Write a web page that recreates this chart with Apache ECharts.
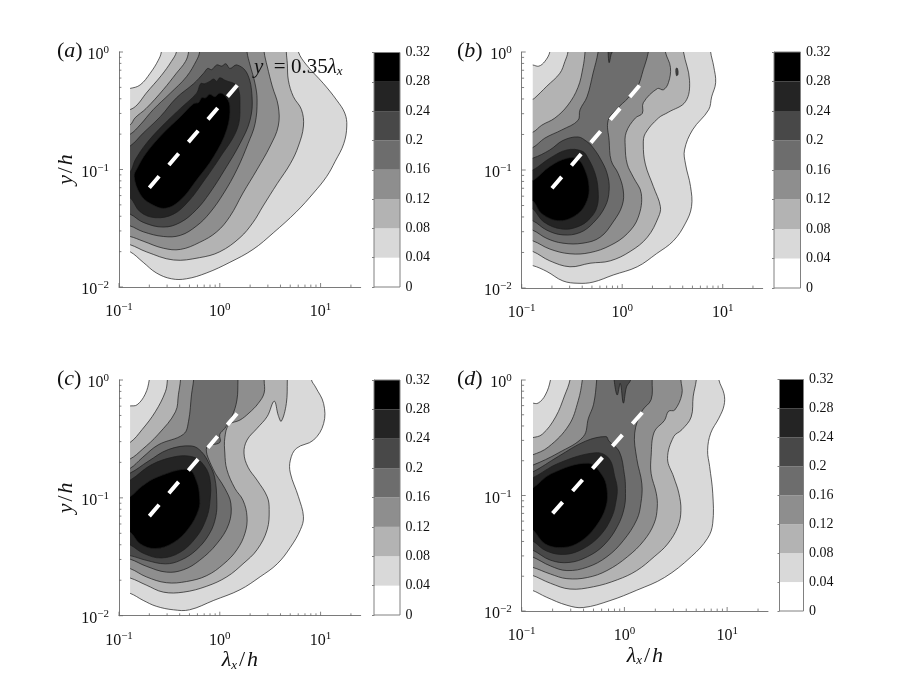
<!DOCTYPE html>
<html><head><meta charset="utf-8">
<style>html,body{margin:0;padding:0;background:#fff}#c{width:913px;height:691px}</style>
<script src="https://cdn.jsdelivr.net/npm/echarts@6/dist/echarts.min.js"></script>
</head><body><div id="c"></div>
<script>
// Contour outlines, as [log10(lambda_x/h), log10(y/h)]
const a04=[[-.95,-1.70],[-.89,-1.70],[-.76,-1.79],[-.63,-1.88],[-.48,-1.93],[-.33,-1.93],[-.13,-1.88],[.10,-1.79],[.33,-1.68],[.53,-1.54],[.76,-1.36],[.93,-1.20],[1.06,-1.06],[1.145,-.93],[1.23,-.78],[1.26,-.63],[1.24,-.52],[1.16,-.41],[1.03,-.27],[.86,-.11],[.78,0],[.78,.08],[-.58,.08],[-.58,0],[-.61,-.07],[-.69,-.18],[-.79,-.28],[-.89,-.31],[-.95,-.31]];
const a08=[[-.95,-1.64],[-.89,-1.64],[-.73,-1.70],[-.46,-1.77],[-.20,-1.75],[0,-1.70],[.20,-1.58],[.33,-1.45],[.43,-1.31],[.57,-1.12],[.70,-.95],[.78,-.80],[.83,-.63],[.81,-.49],[.73,-.38],[.68,-.24],[.67,-.10],[.66,0],[.66,.08],[-.43,.08],[-.43,0],[-.48,-.08],[-.58,-.20],[-.73,-.35],[-.82,-.45],[-.89,-.49],[-.95,-.49]];
const a12=[[-.95,-1.57],[-.89,-1.57],[-.76,-1.61],[-.56,-1.67],[-.39,-1.68],[-.20,-1.62],[-.03,-1.53],[.10,-1.40],[.23,-1.20],[.37,-1.00],[.50,-.80],[.58,-.63],[.58,-.46],[.52,-.29],[.47,-.12],[.44,0],[.44,.08],[-.31,.08],[-.31,0],[-.34,-.08],[-.43,-.18],[-.56,-.32],[-.73,-.48],[-.84,-.56],[-.89,-.62],[-.95,-.62]];
const a16=[[-.95,-1.48],[-.89,-1.48],[-.76,-1.53],[-.56,-1.57],[-.39,-1.56],[-.23,-1.48],[-.10,-1.37],[.04,-1.20],[.17,-1.00],[.28,-.78],[.35,-.61],[.37,-.41],[.35,-.27],[.30,-.11],[.27,0],[.27,.08],[-.20,.08],[-.20,0],[-.23,-.07],[-.33,-.21],[-.49,-.35],[-.66,-.49],[-.79,-.62],[-.89,-.70],[-.95,-.70]];
const a20=[[-.95,-1.38],[-.89,-1.38],[-.76,-1.45],[-.56,-1.49],[-.39,-1.45],[-.23,-1.34],[-.10,-1.20],[.05,-1.00],[.20,-.78],[.30,-.58],[.32,-.38],[.27,-.18],[.17,-.11],[.10,-.14],[.06,-.10],[.02,-.12],[-.03,-.11],[-.08,-.15],[-.12,-.14],[-.16,-.18],[-.26,-.27],[-.43,-.39],[-.59,-.55],[-.76,-.69],[-.89,-.80],[-.95,-.80]];
const a24=[[-.95,-1.24],[-.89,-1.24],[-.79,-1.36],[-.64,-1.41],[-.46,-1.38],[-.31,-1.27],[-.16,-1.10],[0,-.90],[.17,-.66],[.20,-.46],[.17,-.29],[.05,-.24],[0,-.22],[-.03,-.25],[-.06,-.23],[-.10,-.25],[-.15,-.27],[-.19,-.27],[-.23,-.35],[-.39,-.48],[-.56,-.62],[-.73,-.78],[-.84,-.92],[-.89,-1.02],[-.95,-1.02]];
const a28=[[-.85,-1.06],[-.79,-1.21],[-.69,-1.29],[-.54,-1.33],[-.39,-1.26],[-.23,-1.09],[-.06,-.89],[.07,-.66],[.10,-.46],[.05,-.37],[0,-.35],[-.05,-.38],[-.10,-.36],[-.14,-.39],[-.18,-.39],[-.21,-.43],[-.26,-.44],[-.39,-.55],[-.56,-.69],[-.73,-.86],[-.82,-.99]];

const b04=[[-.95,-1.81],[-.89,-1.81],[-.75,-1.86],[-.59,-1.94],[-.44,-1.96],[-.29,-1.95],[-.09,-1.89],[.15,-1.82],[.34,-1.71],[.51,-1.60],[.63,-1.45],[.69,-1.31],[.68,-1.14],[.63,-.95],[.62,-.83],[.70,-.66],[.86,-.49],[.89,-.38],[.93,-.26],[.91,-.12],[.88,0],[.88,.08],[-.72,.08],[-.72,0],[-.77,-.08],[-.83,-.12],[-.89,-.11],[-.95,-.11]];
const b08=[[-.95,-1.69],[-.89,-1.69],[-.72,-1.77],[-.52,-1.82],[-.32,-1.79],[-.12,-1.77],[.08,-1.69],[.25,-1.57],[.36,-1.40],[.38,-1.31],[.31,-1.14],[.23,-.95],[.21,-.78],[.23,-.69],[.36,-.56],[.46,-.51],[.63,-.42],[.67,-.24],[.61,0],[.61,.08],[-.54,.08],[-.54,0],[-.57,-.08],[-.62,-.18],[-.75,-.29],[-.87,-.39],[-.89,-.40],[-.95,-.40]];
const b12=[[-.95,-1.60],[-.89,-1.60],[-.72,-1.67],[-.52,-1.71],[-.32,-1.70],[-.12,-1.64],[.05,-1.54],[.16,-1.40],[.19,-1.20],[.11,-1.06],[.05,-.95],[.03,-.80],[.04,-.68],[.13,-.56],[.20,-.52],[.21,-.43],[.35,-.31],[.41,-.32],[.46,-.26],[.48,-.13],[.43,0],[.43,.08],[-.37,.08],[-.37,0],[-.39,-.13],[-.44,-.30],[-.54,-.45],[-.67,-.56],[-.80,-.62],[-.89,-.68],[-.95,-.68]];
const b16=[[-.95,-1.51],[-.89,-1.51],[-.75,-1.58],[-.59,-1.62],[-.39,-1.62],[-.22,-1.57],[-.09,-1.44],[0,-1.30],[.01,-1.17],[-.04,-1.03],[-.11,-.92],[-.13,-.75],[-.14,-.58],[-.05,-.48],[.06,-.39],[.15,-.30],[.21,-.15],[.26,0],[.26,.08],[-.24,.08],[-.24,0],[-.29,-.18],[-.35,-.38],[-.42,-.49],[-.44,-.58],[-.60,-.66],[-.77,-.73],[-.89,-.81],[-.95,-.81]];
const b20=[[-.95,-1.43],[-.89,-1.43],[-.75,-1.51],[-.59,-1.55],[-.42,-1.53],[-.29,-1.45],[-.17,-1.31],[-.13,-1.17],[-.15,-1.03],[-.22,-.90],[-.30,-.80],[-.35,-.76],[-.44,-.72],[-.59,-.75],[-.72,-.83],[-.89,-.90],[-.95,-.90]];
const b24=[[-.95,-1.33],[-.89,-1.33],[-.78,-1.44],[-.60,-1.50],[-.44,-1.48],[-.32,-1.41],[-.25,-1.31],[-.24,-1.17],[-.27,-1.03],[-.34,-.90],[-.40,-.84],[-.55,-.83],[-.72,-.90],[-.89,-1.00],[-.95,-1.00]];
const b28=[[-.95,-1.26],[-.89,-1.26],[-.80,-1.37],[-.62,-1.43],[-.44,-1.37],[-.35,-1.26],[-.33,-1.14],[-.37,-1.00],[-.44,-.91],[-.55,-.90],[-.72,-.97],[-.89,-1.09],[-.95,-1.09]];
const bSpike=[[-.14,.08],[-.14,0],[-.13,-.09],[-.11,-.02],[-.10,0],[-.10,.08]];
const bSpeck=[[.535,-.14],[.55,-.14],[.555,-.19],[.54,-.20]];

const c04=[[-.95,-1.81],[-.89,-1.81],[-.76,-1.87],[-.63,-1.92],[-.46,-1.95],[-.30,-1.95],[-.06,-1.87],[.20,-1.78],[.40,-1.67],[.57,-1.56],[.70,-1.42],[.80,-1.27],[.83,-1.16],[.78,-.99],[.70,-.79],[.70,-.68],[.76,-.58],[.93,-.51],[1.03,-.37],[1.03,-.20],[.95,-.06],[.91,0],[.91,.08],[-.70,.08],[-.70,0],[-.74,-.12],[-.82,-.21],[-.89,-.22],[-.95,-.22]];
const c08=[[-.95,-1.68],[-.89,-1.68],[-.73,-1.74],[-.56,-1.80],[-.36,-1.80],[-.13,-1.75],[.07,-1.67],[.23,-1.56],[.37,-1.44],[.47,-1.27],[.49,-1.10],[.47,-.99],[.37,-.85],[.28,-.74],[.24,-.62],[.27,-.51],[.37,-.41],[.47,-.31],[.54,-.18],[.58,-.30],[.61,-.35],[.66,-.20],[.67,0],[.67,.08],[-.52,.08],[-.52,0],[-.54,-.10],[-.64,-.27],[-.77,-.42],[-.89,-.53],[-.95,-.53]];
const c12=[[-.95,-1.60],[-.89,-1.60],[-.73,-1.67],[-.53,-1.72],[-.33,-1.71],[-.13,-1.66],[.04,-1.56],[.17,-1.44],[.25,-1.30],[.27,-1.16],[.23,-1.02],[.15,-.92],[.07,-.76],[.05,-.62],[.05,-.49],[.09,-.38],[.20,-.34],[.29,-.28],[.38,-.20],[.44,-.11],[.44,0],[.44,.08],[-.39,.08],[-.39,0],[-.41,-.12],[-.44,-.27],[-.61,-.46],[-.77,-.59],[-.89,-.67],[-.95,-.67]];
const c16=[[-.95,-1.52],[-.89,-1.52],[-.73,-1.58],[-.53,-1.63],[-.36,-1.61],[-.20,-1.53],[-.03,-1.39],[.09,-1.22],[.11,-1.05],[.05,-.92],[-.07,-.75],[-.13,-.57],[0,-.53],[0,-.46],[.05,-.41],[.12,-.31],[.17,-.17],[.18,0],[.18,.08],[-.26,.08],[-.26,0],[-.28,-.12],[-.31,-.35],[-.36,-.46],[-.61,-.55],[-.77,-.66],[-.89,-.75],[-.95,-.75]];
const c20=[[-.95,-1.49],[-.89,-1.49],[-.73,-1.53],[-.54,-1.56],[-.39,-1.53],[-.23,-1.44],[-.10,-1.30],[-.04,-1.16],[-.03,-1.02],[-.05,-.83],[-.10,-.72],[-.18,-.61],[-.28,-.56],[-.51,-.59],[-.71,-.69],[-.89,-.79],[-.95,-.79]];
const c24=[[-.95,-1.40],[-.89,-1.40],[-.76,-1.47],[-.58,-1.51],[-.39,-1.46],[-.23,-1.33],[-.14,-1.19],[-.10,-1.05],[-.10,-.83],[-.18,-.70],[-.28,-.65],[-.44,-.65],[-.68,-.72],[-.89,-.85],[-.95,-.85]];
const c28=[[-.95,-1.29],[-.89,-1.29],[-.79,-1.39],[-.64,-1.43],[-.46,-1.38],[-.31,-1.26],[-.21,-1.10],[-.20,-.99],[-.23,-.86],[-.31,-.76],[-.61,-.82],[-.77,-.90],[-.89,-.99],[-.95,-.99]];

const d04=[[-.95,-1.82],[-.90,-1.82],[-.76,-1.88],[-.56,-1.95],[-.40,-1.97],[-.14,-1.91],[.12,-1.82],[.39,-1.71],[.65,-1.53],[.81,-1.37],[.86,-1.24],[.86,-.98],[.83,-.75],[.81,-.61],[.84,-.46],[.92,-.33],[.97,-.22],[.97,-.12],[.92,0],[.92,.08],[-.72,.08],[-.72,0],[-.77,-.13],[-.84,-.20],[-.90,-.20],[-.95,-.20]];
const d08=[[-.95,-1.69],[-.90,-1.69],[-.72,-1.76],[-.53,-1.81],[-.30,-1.79],[-.07,-1.73],[.12,-1.65],[.29,-1.53],[.42,-1.42],[.52,-1.27],[.55,-1.13],[.53,-.98],[.48,-.84],[.42,-.68],[.48,-.49],[.56,-.43],[.65,-.32],[.67,-.14],[.70,0],[.70,.08],[-.53,.08],[-.53,0],[-.58,-.13],[-.67,-.32],[-.80,-.47],[-.90,-.50],[-.95,-.50]];
const d12=[[-.95,-1.62],[-.90,-1.62],[-.72,-1.68],[-.56,-1.72],[-.36,-1.71],[-.17,-1.65],[.03,-1.53],[.19,-1.39],[.29,-1.24],[.32,-1.10],[.31,-.98],[.26,-.81],[.26,-.66],[.29,-.45],[.39,-.35],[.43,-.27],[.49,-.26],[.56,-.12],[.55,0],[.55,.08],[-.41,.08],[-.41,0],[-.45,-.18],[-.54,-.39],[-.74,-.58],[-.90,-.65],[-.95,-.65]];
const d16=[[-.95,-1.53],[-.90,-1.53],[-.72,-1.61],[-.56,-1.65],[-.36,-1.62],[-.17,-1.53],[-.01,-1.39],[.12,-1.21],[.16,-1.07],[.17,-.90],[.12,-.68],[.10,-.46],[.17,-.27],[.26,-.17],[.27,0],[.27,.08],[-.27,.08],[-.27,0],[-.30,-.21],[-.35,-.33],[-.40,-.49],[-.64,-.63],[-.90,-.74],[-.95,-.74]];
const d20=[[-.95,-1.47],[-.90,-1.47],[-.72,-1.56],[-.54,-1.58],[-.36,-1.53],[-.20,-1.43],[-.07,-1.27],[0,-1.10],[.01,-.94],[0,-.82],[-.05,-.62],[-.15,-.53],[-.18,-.49],[-.38,-.53],[-.64,-.66],[-.90,-.80],[-.95,-.80]];
const d24=[[-.95,-1.39],[-.90,-1.39],[-.76,-1.48],[-.58,-1.51],[-.40,-1.46],[-.23,-1.34],[-.12,-1.18],[-.08,-1.04],[-.07,-.94],[-.09,-.85],[-.15,-.68],[-.28,-.63],[-.64,-.72],[-.90,-.85],[-.95,-.85]];
const d28=[[-.95,-1.29],[-.90,-1.29],[-.77,-1.42],[-.59,-1.45],[-.43,-1.40],[-.28,-1.27],[-.18,-1.10],[-.17,-.94],[-.22,-.82],[-.35,-.72],[-.71,-.81],[-.90,-.94],[-.95,-.94]];
const dSpike=[[-.10,.08],[-.10,0],[-.07,-.13],[-.04,-.03],[-.01,-.20],[.02,-.06],[.06,0],[.06,.08]];

const levelBounds=[0,.04,.08,.12,.16,.2,.24,.28,.32];
const levelFills=['#ffffff','#d9d9d9','#b3b3b3','#8e8e8e','#6d6d6d','#484848','#242424','#000000'];
const xMajor=[.1,1,10];
const xMinor=[.2,.3,.4,.5,.6,.7,.8,.9,2,3,4,5,6,7,8,9,20];
const yMajor=[.01,.1,1];
const yMinor=[.02,.03,.04,.05,.06,.07,.08,.09,.2,.3,.4,.5,.6,.7,.8,.9];
const ridgeLambda=[.2,1.5];
const ridgeSlope=.35;

const serif='"Liberation Serif","DejaVu Serif",serif';
const panels=[
 {key:'a',label:'a',box:[119,52,241.7,235],bar:[374,52.5,26,234.5],yName:true,xName:false,c:[a04,a08,a12,a16,a20,a24,a28],extra:[]},
 {key:'b',label:'b',box:[521.7,52,241,236],bar:[774,52,26.5,236],yName:false,xName:false,c:[b04,b08,b12,b16,b20,b24,b28],extra:[[bSpike,5],[bSpeck,5]]},
 {key:'c',label:'c',box:[119,380,241.7,235.7],bar:[374,380,26,235],yName:true,xName:true,c:[c04,c08,c12,c16,c20,c24,c28],extra:[]},
 {key:'d',label:'d',box:[521.7,380,246.3,231],bar:[779.5,379.5,24,231.5],yName:false,xName:true,c:[d04,d08,d12,d16,d20,d24,d28],extra:[[dSpike,5]]}
];
const supRich={b:{fontFamily:serif,fontSize:16,color:'#111'},s:{fontFamily:serif,fontSize:11,color:'#111',padding:[0,0,9,0]}};
function powLabel(v){const e=Math.log10(v),r=Math.round(e);if(Math.abs(e-r)>1e-6)return '';return '{b|10}{s|'+(r<0?'\u2212':'')+Math.abs(r)+'}';}
const leftEdge=Math.pow(10,-.89);
const tr={fontFamily:serif,fontWeight:'normal',fontSize:22,color:'#111'};
const ti={fontFamily:serif,fontWeight:'normal',fontStyle:'italic',fontSize:22,color:'#111'};

const grid=[],xAxis=[],yAxis=[],series=[],title=[];
panels.forEach((p,i)=>{
 const g=i*2,bg=i*2+1;
 grid.push({left:p.box[0],top:p.box[1],width:p.box[2],height:p.box[3]});
 grid.push({left:p.bar[0],top:p.bar[1],width:p.bar[2],height:p.bar[3]});
 const ax={lineStyle:{color:'#7a7a7a',width:1}};
 xAxis.push({type:'log',logBase:10,gridIndex:g,min:.1,max:25,axisLine:{show:true,...ax},axisTick:{show:false},splitLine:{show:false},minorTick:{show:false},
   axisLabel:{formatter:powLabel,rich:supRich,margin:15,hideOverlap:false},
   name:p.xName?'{i|\u03bb}{s|x}{u|\u200a/\u200a}{i|h}':'',nameLocation:'middle',nameGap:i==3?28:29,
   nameTextStyle:{rich:{i:ti,u:tr,s:{...ti,fontSize:13,padding:[9,0,0,0]}}}});
 yAxis.push({type:'log',logBase:10,gridIndex:g,min:.01,max:1,axisLine:{show:true,...ax},axisTick:{show:false},splitLine:{show:false},minorTick:{show:false},
   axisLabel:{formatter:powLabel,rich:supRich,margin:10,padding:[6,0,0,0],hideOverlap:false},
   name:p.yName?'{i|y}{u|\u200a/\u200a}{i|h}':'',nameLocation:'middle',nameRotate:90,nameGap:41,
   nameTextStyle:{rich:{i:ti,u:tr}}});
 xAxis.push({type:'value',gridIndex:bg,min:0,max:1,show:false});
 yAxis.push({type:'value',gridIndex:bg,min:0,max:.32,interval:.04,position:'right',
   axisLine:{show:true,lineStyle:{color:'#808080'}},axisTick:{show:true,inside:true,length:2,lineStyle:{color:'#808080'}},splitLine:{show:false},
   axisLabel:{fontFamily:serif,fontSize:14,color:'#111',margin:5.5}});

 const poly=(pts,fill)=>series.push({type:'custom',xAxisIndex:g,yAxisIndex:g,silent:true,animation:false,clip:false,
   encode:{x:0,y:1},data:pts.map(q=>[Math.pow(10,q[0]),Math.pow(10,q[1])]),
   renderItem:(params,api)=>{
     if(params.dataIndex!==0)return null;
     const points=pts.map(q=>api.coord([Math.pow(10,q[0]),Math.pow(10,q[1])]));
     const tl=api.coord([leftEdge,1]),br=api.coord([25,.01]);
     return {type:'polygon',shape:{points,smooth:.38},
       clipPath:{type:'rect',shape:{x:tl[0],y:tl[1],width:br[0]-tl[0],height:br[1]-tl[1]}},
       style:{fill,stroke:'#1c1c1c',lineWidth:.7}};
   }});
 p.c.forEach((pts,k)=>poly(pts,levelFills[k+1]));
 p.extra.forEach(e=>poly(e[0],levelFills[e[1]]));

 // ridge line y = 0.35 lambda_x
 series.push({type:'line',xAxisIndex:g,yAxisIndex:g,silent:true,animation:false,showSymbol:false,symbol:'none',
   data:ridgeLambda.map(l=>[l,ridgeSlope*l]),lineStyle:{color:'#fff',width:4,type:[15,15],cap:'butt'},z:5});

 // log ticks
 series.push({type:'custom',xAxisIndex:g,yAxisIndex:g,silent:true,animation:false,clip:false,encode:{x:0,y:1},
   data:xMajor.concat(xMinor).map(v=>[v,.01]),
   renderItem:(params,api)=>{const q=api.coord([api.value(0),api.value(1)]);const len=xMajor.includes(api.value(0))?4:2.4;
     return {type:'line',shape:{x1:q[0],y1:q[1],x2:q[0],y2:q[1]-len},style:{stroke:'#666',lineWidth:.8}};}});
 series.push({type:'custom',xAxisIndex:g,yAxisIndex:g,silent:true,animation:false,clip:false,encode:{x:0,y:1},
   data:yMajor.concat(yMinor).map(v=>[.1,v]),
   renderItem:(params,api)=>{const q=api.coord([api.value(0),api.value(1)]);const len=yMajor.includes(api.value(1))?4:2.4;
     return {type:'line',shape:{x1:q[0],y1:q[1],x2:q[0]+len,y2:q[1]},style:{stroke:'#666',lineWidth:.8}};}});

 // colour bar
 series.push({type:'custom',xAxisIndex:bg,yAxisIndex:bg,silent:true,animation:false,encode:{x:0,y:1},
   data:levelFills.map((f,k)=>[0,levelBounds[k],levelBounds[k+1]]),
   renderItem:(params,api)=>{const a=api.coord([0,api.value(2)]),b=api.coord([1,api.value(1)]);
     return {type:'rect',shape:{x:a[0],y:a[1],width:b[0]-a[0],height:b[1]-a[1]},style:{fill:levelFills[params.dataIndex]}};}});
 series.push({type:'custom',xAxisIndex:bg,yAxisIndex:bg,silent:true,animation:false,encode:{x:0,y:1},z:3,
   data:[[0,0,.32]],
   renderItem:(params,api)=>{const a=api.coord([0,.32]),b=api.coord([1,0]);
     return {type:'rect',shape:{x:a[0],y:a[1],width:b[0]-a[0],height:b[1]-a[1]},style:{fill:'none',stroke:'#808080',lineWidth:1}};}});

 const tx=i%2==0?57:457, ty=i<2?40:368;
 title.push({text:'{u|(}{i|'+p.label+'}{u|)}',left:tx,top:ty,padding:0,textStyle:{fontWeight:'normal',rich:{u:tr,i:ti}}});
});
title.push({text:'{i|y}{u|\u00a0\u00a0=\u00a00.35}{i|\u03bb}{s|x}',left:254,top:56,padding:0,
  textStyle:{fontWeight:'normal',rich:{i:{...ti,fontSize:21},u:{...tr,fontSize:21},s:{...ti,fontSize:13,padding:[9,0,0,0]}}}});

const chart=echarts.init(document.getElementById('c'),null,{renderer:'canvas'});
chart.setOption({animation:false,backgroundColor:'#fff',title,grid,xAxis,yAxis,series,tooltip:{show:false}});
</script></body></html>
